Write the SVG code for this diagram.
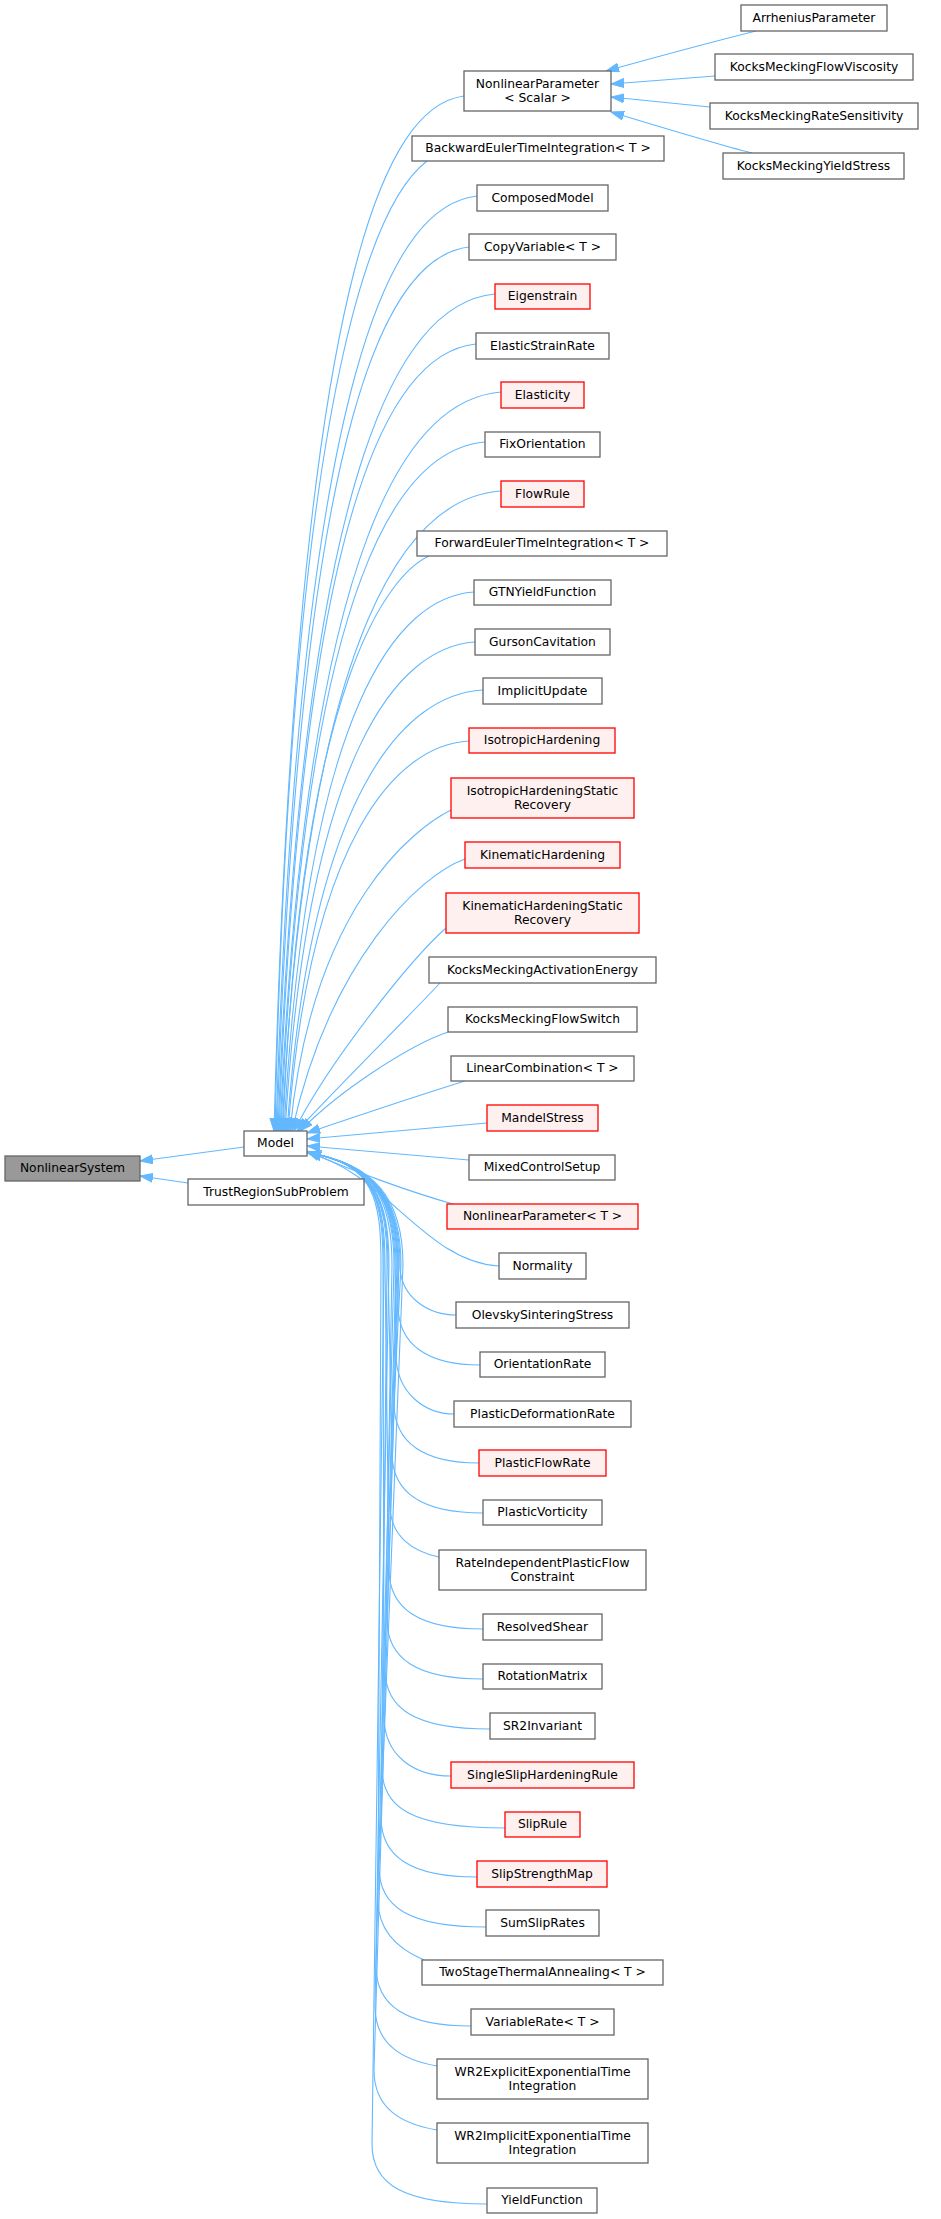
<svg xmlns="http://www.w3.org/2000/svg" width="941" height="2219" viewBox="0 0 941 2219">
<style>
.n rect{fill:#fff;stroke:#666;stroke-width:1.3}
.r rect{fill:#fff0f0;stroke:#f00;stroke-width:1.3}
.g rect{fill:#999;stroke:#666;stroke-width:1.3}
text{font-family:"DejaVu Sans","Liberation Sans",sans-serif;font-size:12.3px;text-anchor:middle;fill:#000}
.e path{fill:none;stroke:#63b8ff;stroke-width:1.1;marker-end:url(#a)}
</style>
<defs>
<marker id="a" markerUnits="userSpaceOnUse" markerWidth="14" markerHeight="10" viewBox="0 0 14 10" refX="13" refY="5" orient="auto"><path d="M0,0.5 L13,5 L0,9.5 z" fill="#63b8ff" stroke="#63b8ff" stroke-width="1"/></marker>
</defs>
<rect width="941" height="2219" fill="#fff"/>
<g id="edges" class="e">
<path d="M244,1147 L140,1161"/>
<path d="M188,1183 L140,1176"/>
<path d="M756,31 C720,40 660,56 606,71"/>
<path d="M715,76 L611,84"/>
<path d="M710,107 L611,97"/>
<path d="M752,153 C720,145 680,133 611,112"/>
<path d="M464,96 C388,106 297,263 274,1131"/>
<path d="M427,161 C389,190 293,320 275,1131"/>
<path d="M477,196 C397,205 300,350 276,1131"/>
<path d="M469,247 C392,256 300,396 277,1131"/>
<path d="M495,294 C408,302 304,437 278,1131"/>
<path d="M476,344 C397,352 303,482 279,1131"/>
<path d="M501,392 C413,399 307,525 280,1131"/>
<path d="M485,442 C403,449 305,569 281,1131"/>
<path d="M501,491 C413,497 308,613 282,1131"/>
<path d="M429,556 C392,573 301,672 283,1131"/>
<path d="M474,592 C398,597 307,704 284,1131"/>
<path d="M475,642 C399,647 308,749 285,1131"/>
<path d="M483,690 C405,694 311,791 287,1131"/>
<path d="M469,741 C397,745 310,837 288,1131"/>
<path d="M451,810 C415,828 312,905 290,1131"/>
<path d="M465,859 C420,875 330,960 292,1131"/>
<path d="M446,928 C412,958 330,1060 294,1131"/>
<path d="M440,983 C415,1010 330,1095 297,1131"/>
<path d="M448,1032 C410,1045 340,1090 300,1131"/>
<path d="M465,1081 C420,1095 360,1115 307,1133"/>
<path d="M487,1123 L307,1139"/>
<path d="M469,1160 L307,1146"/>
<path d="M453,1204 C410,1192 350,1170 307,1151"/>
<path d="M499,1266 C425,1262 385,1172 308,1153"/>
<path d="M456,1315 C428,1315 400,1297 400,1265 C400,1200 375,1163 308,1153"/>
<path d="M480,1365 C428,1365 398,1345 398,1305 L398,1265 C398,1200 375,1163 308,1153"/>
<path d="M454,1414 C426,1414 396,1394 396,1354 L395,1265 C395,1200 375,1163 308,1153"/>
<path d="M479,1463 C424,1463 394,1443 394,1403 L401,1265 C401,1200 375,1163 308,1153"/>
<path d="M483,1513 C422,1513 392,1493 392,1453 L388,1265 C388,1200 375,1163 308,1153"/>
<path d="M439,1557 C414,1552 390,1537 390,1505 L397,1265 C397,1200 375,1163 308,1153"/>
<path d="M483,1629 C419,1629 389,1609 389,1569 L385,1265 C385,1200 375,1163 308,1153"/>
<path d="M483,1679 C417,1679 387,1659 387,1619 L399,1265 C399,1200 375,1163 308,1153"/>
<path d="M490,1729 C415,1729 385,1709 385,1669 L392,1265 C392,1200 375,1163 308,1153"/>
<path d="M451,1776 C414,1776 384,1756 384,1716 L383,1265 C383,1200 375,1163 308,1153"/>
<path d="M505,1828 C412,1828 382,1808 382,1768 L396,1265 C396,1200 375,1163 308,1153"/>
<path d="M477,1877 C411,1877 381,1857 381,1817 L387,1265 C387,1200 375,1163 308,1153"/>
<path d="M486,1927 C409,1927 379,1907 379,1867 L403,1265 C403,1200 375,1163 308,1153"/>
<path d="M424,1960 C405,1952 378,1935 378,1900 L381,1265 C381,1200 375,1163 308,1153"/>
<path d="M471,2026 C406,2026 376,2006 376,1966 L394,1265 C394,1200 375,1163 308,1153"/>
<path d="M437,2066 C403,2060 375,2045 375,2006 L389,1265 C389,1200 375,1163 308,1153"/>
<path d="M437,2130 C402,2124 374,2109 374,2070 L398,1265 C398,1200 375,1163 308,1153"/>
<path d="M487,2204 C402,2204 372,2184 372,2144 L384,1265 C384,1200 375,1163 308,1153"/>
</g>
<g id="NonlinearSystem" class="g"><rect x="5" y="1156" width="135" height="25"/><text x="72.5" y="1172">NonlinearSystem</text></g>
<g id="Model" class="n"><rect x="244" y="1131" width="63" height="25"/><text x="275.5" y="1147">Model</text></g>
<g id="TrustRegionSubProblem" class="n"><rect x="188" y="1179" width="176" height="26"/><text x="276" y="1196">TrustRegionSubProblem</text></g>
<g id="NonlinearParameterScalar" class="n"><rect x="464" y="71" width="147" height="40"/><text x="537.5" y="87.5">NonlinearParameter</text><text x="537.5" y="102">&lt; Scalar &gt;</text></g>
<g id="ArrheniusParameter" class="n"><rect x="741" y="5" width="146" height="26"/><text x="814" y="22">ArrheniusParameter</text></g>
<g id="KocksMeckingFlowViscosity" class="n"><rect x="715" y="54" width="198" height="26"/><text x="814" y="71">KocksMeckingFlowViscosity</text></g>
<g id="KocksMeckingRateSensitivity" class="n"><rect x="710" y="103" width="208" height="26"/><text x="814" y="120">KocksMeckingRateSensitivity</text></g>
<g id="KocksMeckingYieldStress" class="n"><rect x="723" y="153" width="181" height="26"/><text x="813.5" y="170">KocksMeckingYieldStress</text></g>
<g id="BackwardEulerTimeIntegration" class="n"><rect x="412" y="136" width="252" height="25"/><text x="538" y="152">BackwardEulerTimeIntegration&lt; T &gt;</text></g>
<g id="ComposedModel" class="n"><rect x="477" y="185" width="131" height="26"/><text x="542.5" y="202">ComposedModel</text></g>
<g id="CopyVariable" class="n"><rect x="469" y="234" width="147" height="26"/><text x="542.5" y="251">CopyVariable&lt; T &gt;</text></g>
<g id="Eigenstrain" class="r"><rect x="495" y="284" width="95" height="25"/><text x="542.5" y="300">Eigenstrain</text></g>
<g id="ElasticStrainRate" class="n"><rect x="476" y="333" width="133" height="26"/><text x="542.5" y="350">ElasticStrainRate</text></g>
<g id="Elasticity" class="r"><rect x="501" y="382" width="83" height="26"/><text x="542.5" y="399">Elasticity</text></g>
<g id="FixOrientation" class="n"><rect x="485" y="432" width="115" height="25"/><text x="542.5" y="448">FixOrientation</text></g>
<g id="FlowRule" class="r"><rect x="501" y="481" width="83" height="26"/><text x="542.5" y="498">FlowRule</text></g>
<g id="ForwardEulerTimeIntegration" class="n"><rect x="417" y="531" width="250" height="25"/><text x="542" y="547">ForwardEulerTimeIntegration&lt; T &gt;</text></g>
<g id="GTNYieldFunction" class="n"><rect x="474" y="580" width="137" height="25"/><text x="542.5" y="596">GTNYieldFunction</text></g>
<g id="GursonCavitation" class="n"><rect x="475" y="629" width="135" height="26"/><text x="542.5" y="646">GursonCavitation</text></g>
<g id="ImplicitUpdate" class="n"><rect x="483" y="678" width="119" height="26"/><text x="542.5" y="695">ImplicitUpdate</text></g>
<g id="IsotropicHardening" class="r"><rect x="469" y="728" width="146" height="25"/><text x="542" y="744">IsotropicHardening</text></g>
<g id="IsotropicHardeningStaticRecovery" class="r"><rect x="451" y="778" width="183" height="40"/><text x="542.5" y="794.5">IsotropicHardeningStatic</text><text x="542.5" y="809">Recovery</text></g>
<g id="KinematicHardening" class="r"><rect x="465" y="842" width="155" height="26"/><text x="542.5" y="859">KinematicHardening</text></g>
<g id="KinematicHardeningStaticRecovery" class="r"><rect x="446" y="893" width="193" height="40"/><text x="542.5" y="909.5">KinematicHardeningStatic</text><text x="542.5" y="924">Recovery</text></g>
<g id="KocksMeckingActivationEnergy" class="n"><rect x="429" y="957" width="227" height="26"/><text x="542.5" y="974">KocksMeckingActivationEnergy</text></g>
<g id="KocksMeckingFlowSwitch" class="n"><rect x="448" y="1007" width="189" height="25"/><text x="542.5" y="1023">KocksMeckingFlowSwitch</text></g>
<g id="LinearCombination" class="n"><rect x="451" y="1056" width="183" height="25"/><text x="542.5" y="1072">LinearCombination&lt; T &gt;</text></g>
<g id="MandelStress" class="r"><rect x="487" y="1105" width="111" height="26"/><text x="542.5" y="1122">MandelStress</text></g>
<g id="MixedControlSetup" class="n"><rect x="469" y="1155" width="146" height="25"/><text x="542" y="1171">MixedControlSetup</text></g>
<g id="NonlinearParameterT" class="r"><rect x="447" y="1204" width="191" height="25"/><text x="542.5" y="1220">NonlinearParameter&lt; T &gt;</text></g>
<g id="Normality" class="n"><rect x="499" y="1253" width="87" height="26"/><text x="542.5" y="1270">Normality</text></g>
<g id="OlevskySinteringStress" class="n"><rect x="456" y="1302" width="173" height="26"/><text x="542.5" y="1319">OlevskySinteringStress</text></g>
<g id="OrientationRate" class="n"><rect x="480" y="1352" width="125" height="25"/><text x="542.5" y="1368">OrientationRate</text></g>
<g id="PlasticDeformationRate" class="n"><rect x="454" y="1401" width="177" height="26"/><text x="542.5" y="1418">PlasticDeformationRate</text></g>
<g id="PlasticFlowRate" class="r"><rect x="479" y="1450" width="127" height="26"/><text x="542.5" y="1467">PlasticFlowRate</text></g>
<g id="PlasticVorticity" class="n"><rect x="483" y="1500" width="119" height="25"/><text x="542.5" y="1516">PlasticVorticity</text></g>
<g id="RateIndependentPlasticFlowConstraint" class="n"><rect x="439" y="1550" width="207" height="40"/><text x="542.5" y="1566.5">RateIndependentPlasticFlow</text><text x="542.5" y="1581">Constraint</text></g>
<g id="ResolvedShear" class="n"><rect x="483" y="1614" width="119" height="26"/><text x="542.5" y="1631">ResolvedShear</text></g>
<g id="RotationMatrix" class="n"><rect x="483" y="1664" width="119" height="25"/><text x="542.5" y="1680">RotationMatrix</text></g>
<g id="SR2Invariant" class="n"><rect x="490" y="1713" width="105" height="26"/><text x="542.5" y="1730">SR2Invariant</text></g>
<g id="SingleSlipHardeningRule" class="r"><rect x="451" y="1762" width="183" height="26"/><text x="542.5" y="1779">SingleSlipHardeningRule</text></g>
<g id="SlipRule" class="r"><rect x="505" y="1812" width="75" height="25"/><text x="542.5" y="1828">SlipRule</text></g>
<g id="SlipStrengthMap" class="r"><rect x="477" y="1861" width="130" height="26"/><text x="542" y="1878">SlipStrengthMap</text></g>
<g id="SumSlipRates" class="n"><rect x="486" y="1910" width="113" height="26"/><text x="542.5" y="1927">SumSlipRates</text></g>
<g id="TwoStageThermalAnnealing" class="n"><rect x="422" y="1960" width="241" height="25"/><text x="542.5" y="1976">TwoStageThermalAnnealing&lt; T &gt;</text></g>
<g id="VariableRate" class="n"><rect x="471" y="2009" width="143" height="26"/><text x="542.5" y="2026">VariableRate&lt; T &gt;</text></g>
<g id="WR2ExplicitExponentialTimeIntegration" class="n"><rect x="437" y="2059" width="211" height="40"/><text x="542.5" y="2075.5">WR2ExplicitExponentialTime</text><text x="542.5" y="2090">Integration</text></g>
<g id="WR2ImplicitExponentialTimeIntegration" class="n"><rect x="437" y="2123" width="211" height="40"/><text x="542.5" y="2139.5">WR2ImplicitExponentialTime</text><text x="542.5" y="2154">Integration</text></g>
<g id="YieldFunction" class="n"><rect x="487" y="2188" width="110" height="25"/><text x="542" y="2204">YieldFunction</text></g>
</svg>
